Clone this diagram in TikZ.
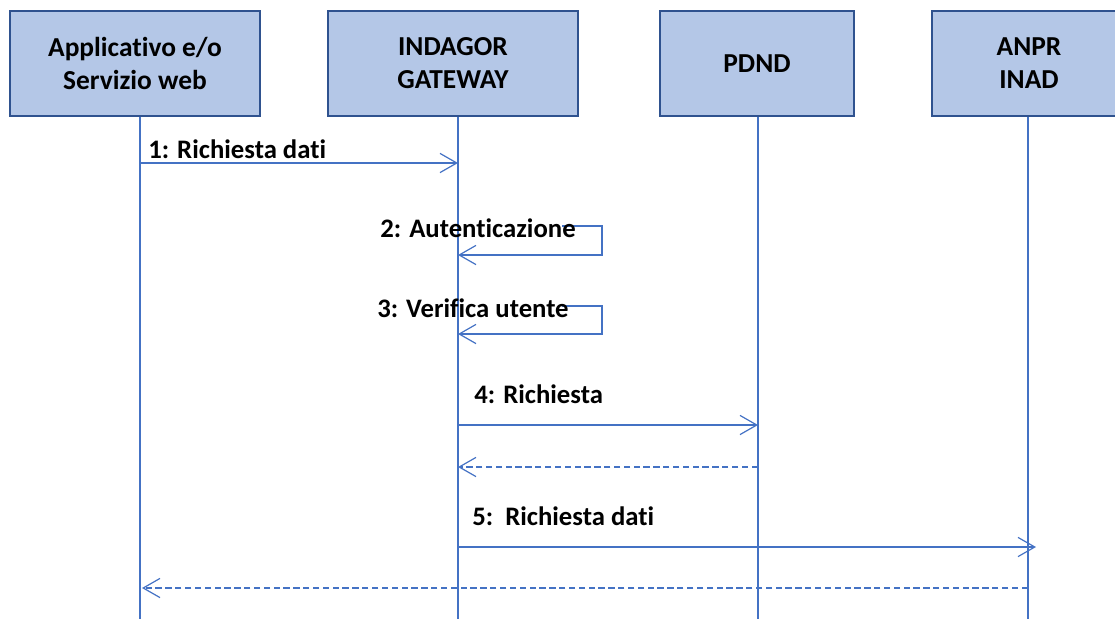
\documentclass[tikz,border=0pt]{standalone}
\usepackage{fontspec}
\setmainfont{Carlito}[RawFeature=-liga]
\usetikzlibrary{arrows.meta}

\definecolor{boxfill}{HTML}{B4C7E7}
\definecolor{boxline}{HTML}{2F528F}
\definecolor{msgline}{HTML}{4472C4}

\begin{document}
\begin{tikzpicture}[x=0.025cm, y=-0.025cm,
  actor/.style={draw=boxline, fill=boxfill, line width=1.8pt,
    minimum height=2.625cm, align=center,
    font=\bfseries\fontsize{19.5}{23.5}\selectfont},
  lifeline/.style={draw=msgline, line width=0.85pt},
  msg/.style={draw=msgline, line width=0.85pt,
    -{Straight Barb[length=4.2mm,width=4.8mm]}},
  reply/.style={msg, dash pattern=on 4.5pt off 2.5pt},
  lbl/.style={font=\bfseries\fontsize{19}{23}\selectfont, inner sep=0pt}]

  \useasboundingbox (0,0) rectangle (1115,619);
  \clip (0,0) rectangle (1115,619);

  % participants
  \node[actor, minimum width=6.25cm] (app) at (135,63.5) {Applicativo e/o\\Servizio web};
  \node[actor, minimum width=6.25cm] (gw) at (453,63.5) {INDAGOR\\GATEWAY};
  \node[actor, minimum width=4.85cm] (pdnd) at (757,63.5) {PDND};
  \node[actor, minimum width=4.85cm] (anpr) at (1029,63.5) {ANPR\\INAD};

  % lifelines
  \coordinate (appEnd) at (140,619);
  \coordinate (gwEnd) at (458,619);
  \coordinate (pdndEnd) at (758,619);
  \coordinate (anprEnd) at (1028,619);
  \draw[lifeline] (appEnd |- app.south) -- (appEnd);
  \draw[lifeline] (gwEnd |- gw.south) -- (gwEnd);
  \draw[lifeline] (pdndEnd |- pdnd.south) -- (pdndEnd);
  \draw[lifeline] (anprEnd |- anpr.south) -- (anprEnd);

  % 1
  \coordinate (a1) at (140,163);
  \coordinate (g1) at (458,163);
  \draw[msg] (a1) -- (g1);
  \node[lbl, anchor=base west] (t1) at (148,158) {1: Richiesta dati};

  % 2 and 3, self calls
  \coordinate (s2) at (562,226);
  \coordinate (c2) at (602,226);
  \coordinate (d2) at (602,255);
  \coordinate (g2) at (458,255);
  \draw[msg] (s2) -- (c2) -- (d2) -- (g2);
  \node[lbl, anchor=base west] (t2) at (380,237) {2: Autenticazione};

  \coordinate (s3) at (562,306);
  \coordinate (c3) at (602,306);
  \coordinate (d3) at (602,334);
  \coordinate (g3) at (458,334);
  \draw[msg] (s3) -- (c3) -- (d3) -- (g3);
  \node[lbl, anchor=base west] (t3) at (377,317) {3: Verifica utente};

  % 4
  \coordinate (g4) at (458,425);
  \coordinate (p4) at (758,425);
  \draw[msg] (g4) -- (p4);
  \node[lbl, anchor=base west] (t4) at (474,403) {4: Richiesta};
  \coordinate (p4r) at (758,467);
  \coordinate (g4r) at (458,467);
  \draw[reply] (p4r) -- (g4r);

  % 5
  \coordinate (g5) at (458,547);
  \coordinate (n5) at (1036,547);
  \draw[msg] (g5) -- (n5);
  \node[lbl, anchor=base west] (t5) at (472,525) {5:\ \ Richiesta dati};
  \coordinate (n5r) at (1028,588);
  \coordinate (a5r) at (142,588);
  \draw[reply] (n5r) -- (a5r);

\end{tikzpicture}
\end{document}
